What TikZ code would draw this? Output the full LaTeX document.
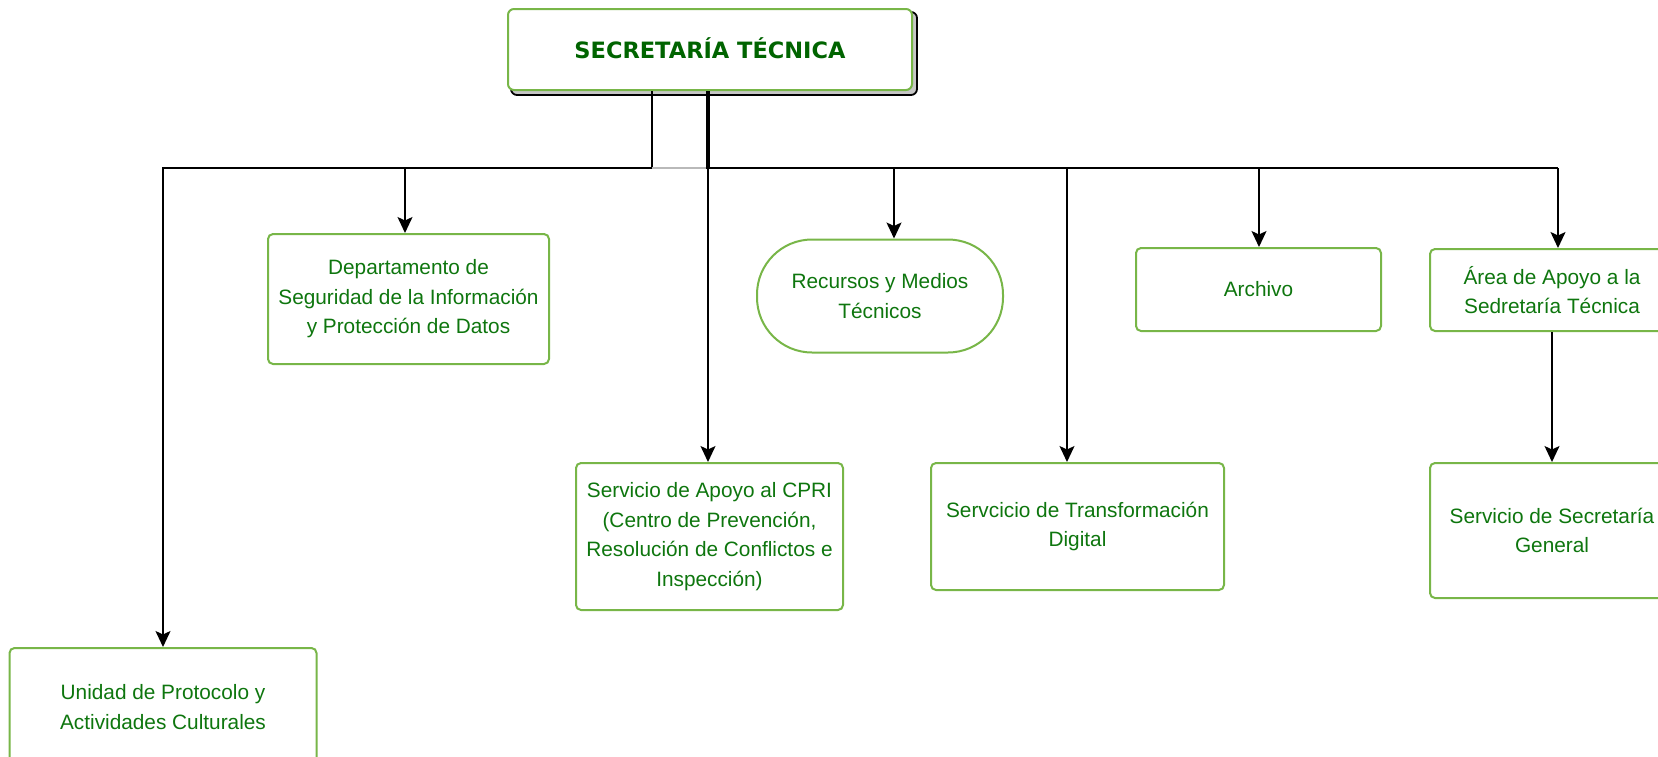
\documentclass[tikz,border=0pt]{standalone}
\usepackage{fontspec}
\setmainfont{Liberation Sans}
\newfontfamily\titlefont{DejaVu Sans}
\usetikzlibrary{arrows.meta,backgrounds}
\definecolor{boxgreen}{RGB}{120,182,72}
\definecolor{txtgreen}{RGB}{14,118,14}
\definecolor{titlegreen}{RGB}{0,100,0}
\tikzset{
  unitbox/.style={draw=boxgreen, line width=2pt, fill=white, rounded corners=5pt,
    align=center, text=txtgreen, font=\fontsize{20.8}{29.5}\selectfont, inner sep=0pt},
  stadium/.style={unitbox, rounded corners=55pt},
  topbox/.style={draw=boxgreen, line width=2pt, fill=white, rounded corners=6pt,
    text=titlegreen, font=\titlefont\bfseries\fontsize{22.5}{26}\selectfont, inner sep=0pt},
  conn/.style={draw=black, line width=1.6pt, -{Stealth[length=16pt,width=15pt,inset=3.5pt]}},
}
\begin{document}
\begin{tikzpicture}[x=1pt,y=-1pt]
\useasboundingbox (0,0) rectangle (1658,756);
\clip (0,0) rectangle (1658,756);

% nodes
\node[topbox, minimum width=404pt, minimum height=81pt] (top) at (710,49.5) {\raisebox{2pt}{SECRETARÍA TÉCNICA}};
\begin{scope}[on background layer]
  \draw[black, line width=1.8pt, fill=gray!45, rounded corners=6pt]
    ([shift={(4pt,-4pt)}]top.north west) rectangle ([shift={(4pt,-4pt)}]top.south east);
\end{scope}

\node[unitbox, minimum width=281pt, minimum height=130pt] (dept) at (408.5,299)
  {Departamento de\\Seguridad de la Información\\y Protección de Datos};
\node[stadium, minimum width=246pt, minimum height=113pt] (rec) at (880,296)
  {Recursos y Medios\\Técnicos};
\node[unitbox, minimum width=245pt, minimum height=83pt] (arch) at (1258.5,289.5)
  {Archivo};
\node[unitbox, minimum width=244pt, minimum height=82pt] (area) at (1552,290)
  {Área de Apoyo a la\\Sedretaría Técnica};
\node[unitbox, minimum width=267pt, minimum height=147pt] (cpri) at (709.5,536.5)
  {Servicio de Apoyo al CPRI\\(Centro de Prevención,\\Resolución de Conflictos e\\Inspección)};
\node[unitbox, minimum width=293pt, minimum height=127pt] (trans) at (1077.5,526.5)
  {Servcicio de Transformación\\Digital};
\node[unitbox, minimum width=244pt, minimum height=135pt] (secgen) at (1552,530.5)
  {Servicio de Secretaría\\General};
\node[unitbox, minimum width=307pt, minimum height=118pt] (uni) at (163,707)
  {Unidad de Protocolo y\\Actividades Culturales};

% junction coordinates on the bus line
\coordinate (b1) at (652,168);
\coordinate (b2) at (708,168);
\coordinate (cD) at (405,168);
\coordinate (cR) at (894,168);
\coordinate (cT) at (1067,168);
\coordinate (cA) at (1259,168);
\coordinate (cS) at (1558,168);

% left group
\draw[conn] (top.south -| b1) -- (b1) -| (uni.north);
\draw[conn] (cD) -- (cD |- dept.north);
\draw[draw=gray!55, line width=1.5pt] (b1) -- ([xshift=-2pt]b2);

% right group
\draw[line width=4pt] (top.south -| b2) -- ([yshift=-1pt]b2);
\draw[line width=2.2pt] (b2) -- (cS);
\draw[conn] (b2) -- (b2 |- cpri.north);
\draw[conn] (cR) -- (cR |- rec.north);
\draw[conn] (cT) -- (cT |- trans.north);
\draw[conn] (cA) -- (cA |- arch.north);
\draw[conn] (cS) -- (cS |- area.north);
\draw[conn] (area.south) -- (secgen.north);
\end{tikzpicture}
\end{document}
